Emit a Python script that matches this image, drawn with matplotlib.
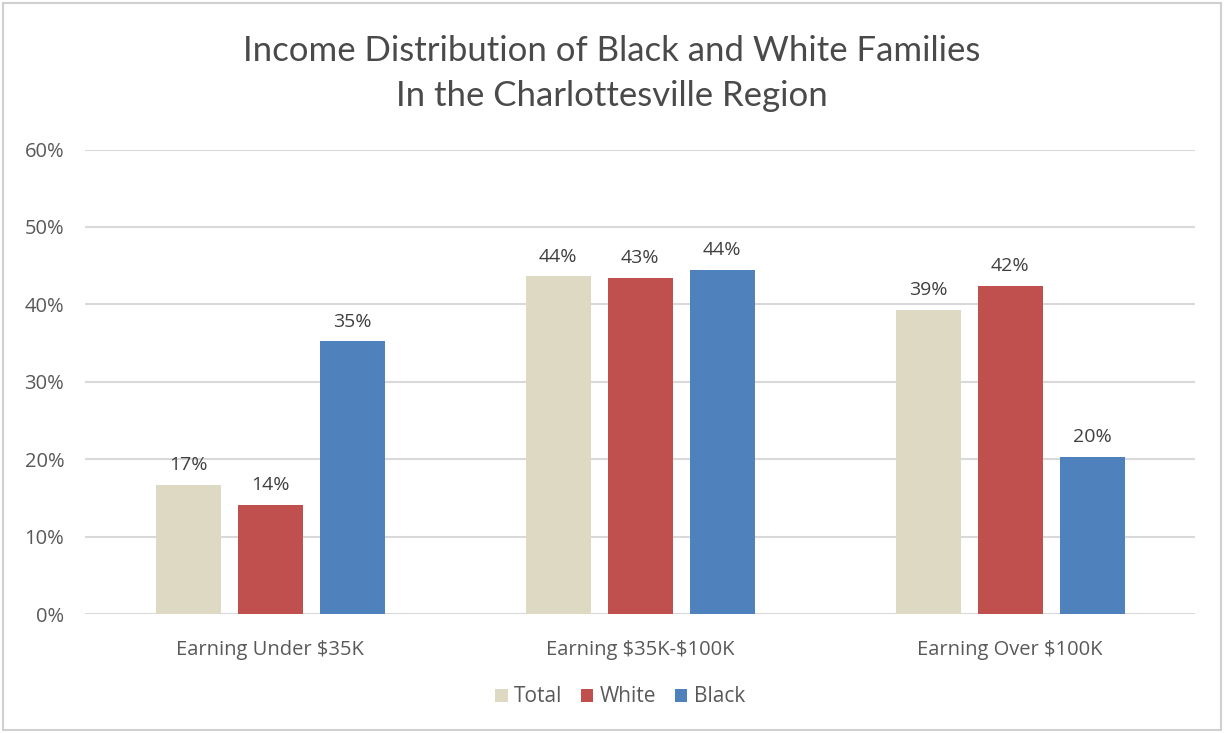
import matplotlib
matplotlib.use("Agg")
import matplotlib.pyplot as plt
from matplotlib.patches import Rectangle, Patch
import numpy as np

categories = ["Earning Under \\$35K", "Earning \\$35K-\\$100K", "Earning Over \\$100K"]
series_names = ["Total", "White", "Black"]
total_vals = [16.7, 43.6, 39.3]
white_vals = [14.1, 43.4, 42.4]
black_vals = [35.2, 44.4, 20.3]
y_ticks = [0, 10, 20, 30, 40, 50, 60]
title_lines = ["Income Distribution of Black and White Families",
               "In the Charlottesville Region"]

colors = ["#DDD9C3", "#C0504D", "#4F81BD"]
plt.rcParams["font.family"] = ["Open Sans", "DejaVu Sans"]

W, H = 1224, 733
fig = plt.figure(figsize=(W / 100, H / 100), dpi=100)
ax = fig.add_axes([85 / W, 1 - 614 / H, 1110 / W, (614 - 149.5) / H])

x = np.arange(len(categories))
bar_w = 65 / 370
step = 82 / 370
for i, (vals, name, c) in enumerate(zip([total_vals, white_vals, black_vals],
                                       series_names, colors)):
    pos = x + (i - 1) * step
    bars = ax.bar(pos, vals, width=bar_w, color=c, label=name, zorder=3)
    for b, v in zip(bars, vals):
        ax.text(b.get_x() + b.get_width() / 2, v + 1.4, f"{round(v)}%",
                ha="center", va="bottom", fontsize=14, color="#404040")

ax.set_xlim(-0.5, 2.5)
ax.set_ylim(0, 60)
ax.set_yticks(y_ticks)
ax.set_yticklabels([f"{t}%" for t in y_ticks], fontsize=14.5, color="#595959")
ax.set_xticks(x)
ax.set_xticklabels(categories, fontsize=14.5, color="#595959")
ax.tick_params(axis="both", length=0)
ax.tick_params(axis="y", pad=15)
ax.tick_params(axis="x", pad=19)
for s in ax.spines.values():
    s.set_visible(False)
ax.yaxis.grid(True, color="#D9D9D9", linewidth=1.5, zorder=0)
ax.set_axisbelow(True)

for k, line in enumerate(title_lines):
    fig.text(0.5, 1 - (51 + 45 * k) / H, line, ha="center", va="center",
             fontsize=25, color="#4A4A4A", family=["Lato", "DejaVu Sans"])

handles = [Patch(facecolor=c, label=n) for c, n in zip(colors, series_names)]
fig.legend(handles=handles, loc="center", bbox_to_anchor=(620 / W, 1 - 697 / H),
           ncol=3, frameon=False, fontsize=15, handlelength=0.6, handleheight=0.6,
           handletextpad=0.3, columnspacing=0.9, labelcolor="#595959")

fig.patches.append(Rectangle((3 / W, 3 / H), (W - 6) / W, (H - 6) / H,
                             transform=fig.transFigure, fill=False,
                             edgecolor="#D0D0D0", linewidth=1.5))

fig.savefig("out.png", dpi=100, facecolor="white")
